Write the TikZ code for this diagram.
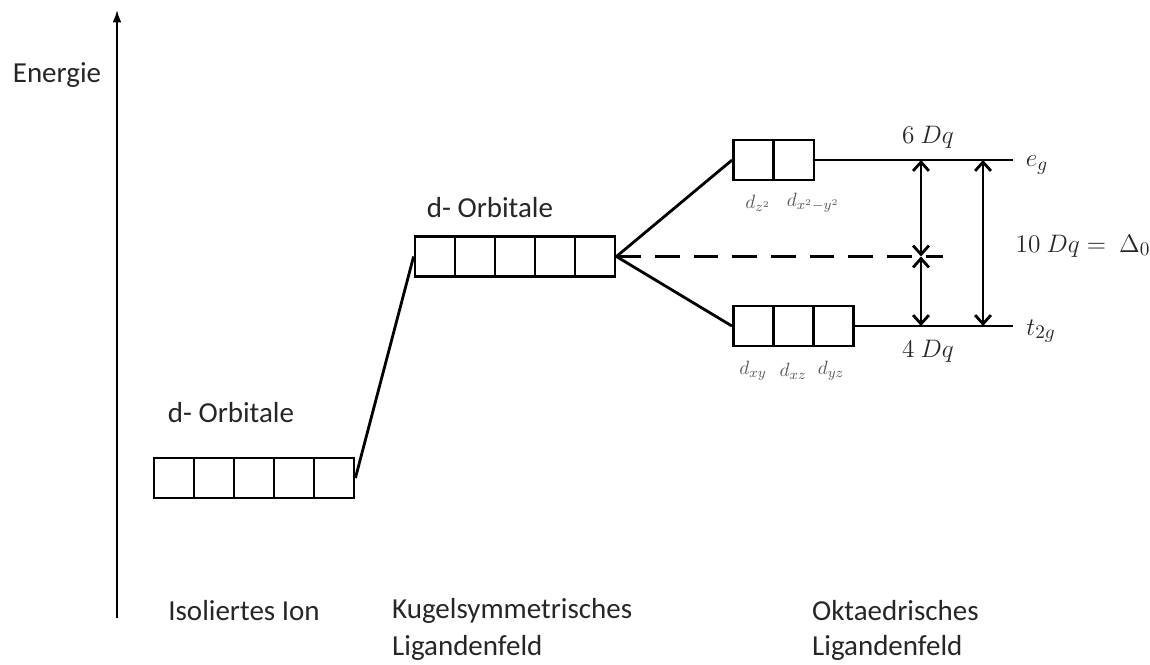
\documentclass[tikz,border=0pt]{standalone}
\usepackage{fontspec}
\setmainfont{Carlito}
\usepackage{tikz}
\usetikzlibrary{arrows.meta}

\tikzset{
  orb/.style={draw, line width=1.6pt, minimum width=0.8cm, minimum height=0.8cm, inner sep=0pt},
  lbl/.style={font=\fontsize{16.5}{20}\selectfont, text=black!85},
  mlbl/.style={font=\fontsize{15.5}{18}\selectfont, text=black!85},
  dlbl/.style={font=\fontsize{11}{13}\selectfont, text=black!65},
  lvl/.style={line width=1.6pt},
  gap/.style={line width=1.6pt, {Straight Barb[length=5pt,width=9pt]}-{Straight Barb[length=5pt,width=9pt]}}
}

\begin{document}
\begin{tikzpicture}[x=0.02cm,y=-0.02cm]
                    \useasboundingbox (0,0) rectangle (1150,664);

                    % Energieachse
                    \coordinate (ax0) at (117,618);
                    \coordinate (ax1) at (117,10);
                    \draw[line width=1.1pt, -{Latex[length=7pt,width=5pt]}] (ax0) -- (ax1);
                    \node[lbl] (energie) at (57,75) {Energie};

                    % Orbitale: isoliertes Ion
                    \foreach \i in {1,...,5}
                        \node[orb] (iso\i) at (134+40*\i,478) {};
                    \node[lbl] (isolbl) at (231,413) {d- Orbitale};

                    % Orbitale: kugelsymmetrisches Feld
                    \foreach \i in {1,...,5}
                        \node[orb] (kug\i) at (395+40*\i,256.5) {};
                    \node[lbl] (kuglbl) at (490,208) {d- Orbitale};

                    % Orbitale: oktaedrisches Feld
                    \foreach \i in {1,2}
                        \node[orb] (eg\i) at (713+40.5*\i,160) {};
                    \foreach \i in {1,2,3}
                        \node[orb] (tg\i) at (713+40.3*\i,326) {};

                    \node[dlbl] (dz) at (758,203) {$d_{z^2}$};
                    \node[dlbl] (dxy2) at (813,203) {$d_{x^2-y^2}$};
                    \node[dlbl] (dxy) at (753,371) {$d_{xy}$};
                    \node[dlbl] (dxz) at (793,371) {$d_{xz}$};
                    \node[dlbl] (dyz) at (831,371) {$d_{yz}$};

                    % Verbindungen
                    \draw[lvl] (iso5.east) -- (kug1.west);
                    \draw[lvl] (kug5.east) -- (eg1.west);
                    \draw[lvl] (kug5.east) -- (tg1.west);

                    % Niveaus
                    \coordinate (egend) at (1013,160);
                    \coordinate (tgend) at (1013,326);
                    \coordinate (bary) at (943,256.5);
                    \draw[lvl] (eg2.east) -- (egend);
                    \draw[lvl] (tg3.east) -- (tgend);
                    \draw[lvl, dashed, dash pattern=on 14pt off 8pt] (kug5.east) -- (bary);

                    % Aufspaltung
                    \coordinate (a1) at (921,160);
                    \coordinate (a2) at (921,256.5);
                    \coordinate (a3) at (921,326);
                    \coordinate (b1) at (983,160);
                    \coordinate (b2) at (983,326);
                    \draw[gap] (a1) -- (a2);
                    \draw[gap] (a2) -- (a3);
                    \draw[gap] (b1) -- (b2);

                    \node[mlbl] (sechs) at (928,137) {$6\ Dq$};
                    \node[mlbl] (vier) at (928,351) {$4\ Dq$};
                    \node[mlbl] (eglbl) at (1037,165) {$e_g$};
                    \node[mlbl] (tglbl) at (1041,331) {$t_{2g}$};
                    \node[mlbl] (delta) at (1083,246) {$10\ Dq =\ \Delta_0$};

                    % Beschriftung unten
                    \node[lbl] (ion) at (244,611) {Isoliertes Ion};
                    \node[lbl, anchor=west] (kug) at (386,611) {Kugelsymmetrisches};
                    \node[lbl, anchor=west] (kug2) at (386,648) {Ligandenfeld};
                    \node[lbl, anchor=west] (okt) at (806,611) {Oktaedrisches};
                    \node[lbl, anchor=west] (okt2) at (806,648) {Ligandenfeld};
                \end{tikzpicture}
\end{document}
